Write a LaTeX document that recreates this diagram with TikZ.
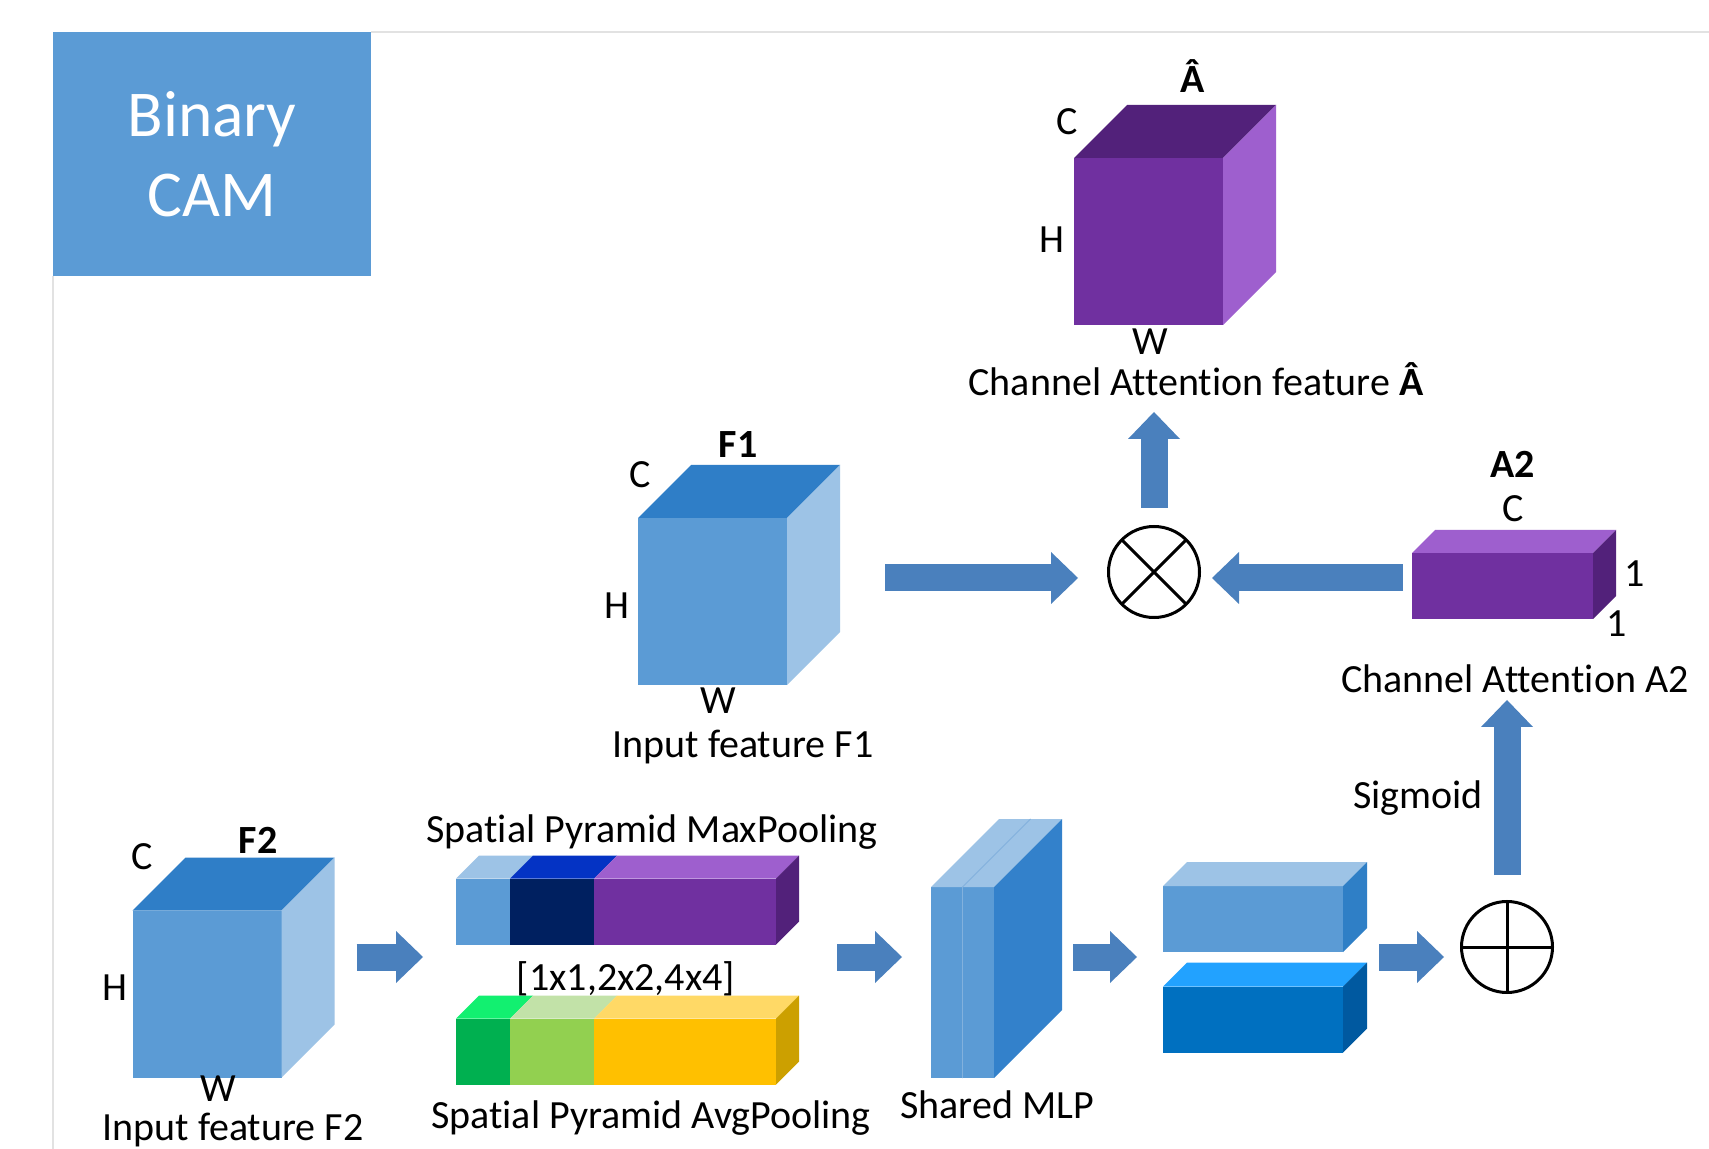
\documentclass[tikz,border=0pt]{standalone}
\usepackage{fontspec}
\setmainfont{Carlito}[Ligatures=NoCommon]
\usetikzlibrary{arrows.meta,positioning}

\definecolor{titleblue}{HTML}{5B9BD5}
\definecolor{blue1}{HTML}{5B9BD5}
\definecolor{bluetop}{HTML}{2F7EC7}
\definecolor{bluelight}{HTML}{9DC3E6}
\definecolor{bluemid}{HTML}{2F7FC6}
\definecolor{mlpside}{HTML}{3381CB}
\definecolor{blue2}{HTML}{0070C0}
\definecolor{blue2top}{HTML}{22A2FF}
\definecolor{blue2dark}{HTML}{0059A0}
\definecolor{purple1}{HTML}{7030A0}
\definecolor{purpledark}{HTML}{52217A}
\definecolor{purplelight}{HTML}{9E5FCE}
\definecolor{navy}{HTML}{002060}
\definecolor{navytop}{HTML}{0433C4}
\definecolor{green1}{HTML}{00B050}
\definecolor{greentop}{HTML}{12F070}
\definecolor{lgreen}{HTML}{92D050}
\definecolor{lgreentop}{HTML}{C2E2A8}
\definecolor{yellow1}{HTML}{FFC000}
\definecolor{yellowtop}{HTML}{FFD966}
\definecolor{yellowdark}{HTML}{CCA000}
\definecolor{arrowblue}{HTML}{4A80BD}
\definecolor{framegray}{HTML}{E2E2E2}

\begin{document}
\begin{tikzpicture}[x=0.5pt,y=-0.5pt,
    face/.style={rectangle,inner sep=0pt,outer sep=0pt},
    cube/.style={face,minimum width=74.5pt,minimum height=83.5pt},
    slab/.style={face,minimum width=90pt,minimum height=33pt},
    lbl/.style={anchor=base,inner sep=0pt,font=\fontsize{20}{24}\selectfont},
    boldlbl/.style={lbl,font=\fontsize{20}{24}\selectfont\bfseries},
    op/.style={circle,draw,line width=1.5pt,fill=white,minimum size=45.5pt,inner sep=0pt,outer sep=0pt},
    arr/.style={draw=arrowblue,line width=13.5pt,-{Triangle[width=26pt,length=13.5pt,line width=0pt]}}
  ]
  \path[use as bounding box,fill=white] (0,0) rectangle (1709,1149);

  %title and frame
  \node[face,fill=titleblue,minimum width=159pt,minimum height=122pt,text=white,
        font=\fontsize{32.7}{40}\selectfont,align=center] (title) at (212,154) {Binary\\CAM};
  \draw[framegray,line width=1pt] (title.north east) -- ++(1338,0);
  \draw[framegray,line width=1pt] (title.south west) -- ++(0,873);

  %front faces
  \node[cube,fill=blue1] (f2) at (207,994) {};
  \node[cube,fill=blue1] (f1) at (712.5,601.5) {};
  \node[cube,fill=purple1] (ahat) at (1148.5,241.5) {};
  \node[face,fill=blue1,minimum width=31.5pt,minimum height=95.5pt] (mlp) at (962.5,982.5) {};
  \node[slab,fill=blue1] (bar1) at (1253,919) {};
  \node[slab,fill=blue2] (bar2) at (1253,1019.5) {};
  \node[slab,fill=purple1,minimum width=90.5pt] (a2) at (1502.5,586) {};
  \node[face,minimum width=160pt,minimum height=33pt] (maxp) at (616,911.5) {};
  \node[face,minimum width=160pt,minimum height=33pt] (avgp) at (616,1051.5) {};

  %top and side faces
  \foreach \bx/\dp/\tc/\sc in {f2/53/bluetop/bluelight, f1/53/bluetop/bluelight,
      ahat/53/purpledark/purplelight, mlp/68/bluelight/mlpside, bar1/24/bluelight/bluemid,
      bar2/24/blue2top/blue2dark, a2/23/purplelight/purpledark} {
    \fill[\tc] (\bx.north west) -- ++(\dp,-\dp) -- ([shift={(\dp,-\dp)}]\bx.north east) -- (\bx.north east) -- cycle;
    \fill[\sc] (\bx.north east) -- ([shift={(\dp,-\dp)}]\bx.north east) -- ([shift={(\dp,-\dp)}]\bx.south east) -- (\bx.south east) -- cycle;
  }
  \draw[bluetop!60,line width=0.4pt] (mlp.south) -- (mlp.north) -- ++(68,-68);

  %pyramid pooling bars
  \foreach \x/\w/\fc/\tc in {0/54/blue1/bluelight, 54/84/navy/navytop, 138/182/purple1/purplelight} {
    \fill[\fc] (maxp.south west) ++(\x,0) rectangle ++(\w,-66);
    \fill[\tc] (maxp.north west) ++(\x,0) -- ++(23,-23) -- ++(\w,0) -- ++(-23,23) -- cycle;
  }
  \fill[purpledark] (maxp.north east) -- ++(23,-23) -- ++(0,66) -- (maxp.south east) -- cycle;
  \foreach \x/\w/\fc/\tc in {0/54/green1/greentop, 54/84/lgreen/lgreentop, 138/182/yellow1/yellowtop} {
    \fill[\fc] (avgp.south west) ++(\x,0) rectangle ++(\w,-66);
    \fill[\tc] (avgp.north west) ++(\x,0) -- ++(23,-23) -- ++(\w,0) -- ++(-23,23) -- cycle;
  }
  \fill[yellowdark] (avgp.north east) -- ++(23,-23) -- ++(0,66) -- (avgp.south east) -- cycle;

  %operators
  \node[op] (mul) at (1154,572) {};
  \draw[line width=1.5pt] (mul.north west) -- (mul.south east) (mul.north east) -- (mul.south west);
  \node[op] (add) at (1507,947) {};
  \draw[line width=1.5pt] (add.north) -- (add.south) (add.west) -- (add.east);

  %labels
  \node[boldlbl] (ahatname) at (1193,93) {Â};
  \node[lbl] (ahatc) at (1067,135) {C};
  \node[lbl] (ahath) at (1052,253) {H};
  \node[lbl] (ahatw) at (1150,355) {W};
  \node[lbl] (ahatcap) at (1196,396) {Channel Attention feature \textbf{Â}};
  \node[boldlbl] (f1name) at (738,458) {F1};
  \node[lbl] (f1c) at (640,488) {C};
  \node[lbl] (f1h) at (617,619) {H};
  \node[lbl] (f1w) at (718,714) {W};
  \node[lbl] (f1cap) at (743,758) {Input feature F1};
  \node[boldlbl] (f2name) at (258,853) {F2};
  \node[lbl] (f2c) at (142,870) {C};
  \node[lbl] (f2h) at (115,1000) {H};
  \node[lbl] (f2w) at (218,1101) {W};
  \node[lbl] (f2cap) at (233,1140) {Input feature F2};
  \node[boldlbl] (a2name) at (1513,478) {A2};
  \node[lbl] (a2c) at (1513,522) {C};
  \node[lbl] (a2one) at (1635,587) {1};
  \node[lbl] (a2onebot) at (1617,637) {1};
  \node[lbl] (a2cap) at (1515,693) {Channel Attention A2};
  \node[lbl] (sig) at (1418,808) {Sigmoid};
  \node[lbl] (maxcap) at (652,842) {Spatial Pyramid MaxPooling};
  \node[lbl] (bins) at (626,990) {[1x1,2x2,4x4]};
  \node[lbl] (avgcap) at (651,1128) {Spatial Pyramid AvgPooling};
  \node[lbl] (mlpcap) at (997,1118) {Shared MLP};

  %arrows
  \coordinate (row1) at (0,578);
  \coordinate (row2) at (0,957);
  \draw[arr,shorten <=37.5pt,shorten >=16.5pt] (f2.east |- row2) -- (maxp.west |- row2);
  \draw[arr,shorten <=30.5pt,shorten >=14.5pt] (maxp.east |- row2) -- (mlp.west |- row2);
  \draw[arr,shorten <=39.5pt,shorten >=13pt] (mlp.east |- row2) -- (bar1.west |- row2);
  \draw[arr,shorten <=18pt,shorten >=8.75pt] (bar1.east |- row2) -- (add.west |- row2);
  \draw[arr,shorten <=13.25pt,shorten >=40.5pt] (add.north) -- (add.north |- a2.south);
  \draw[arr,shorten <=49pt,shorten >=15.25pt] (f1.east |- row1) -- (mul.west |- row1);
  \draw[arr,shorten <=4.5pt,shorten >=6.25pt] (a2.west |- row1) -- (mul.east |- row1);
  \draw[arr,shorten <=9.25pt,shorten >=43.5pt] (mul.north) -- (mul.north |- ahat.south);
\end{tikzpicture}
\end{document}
